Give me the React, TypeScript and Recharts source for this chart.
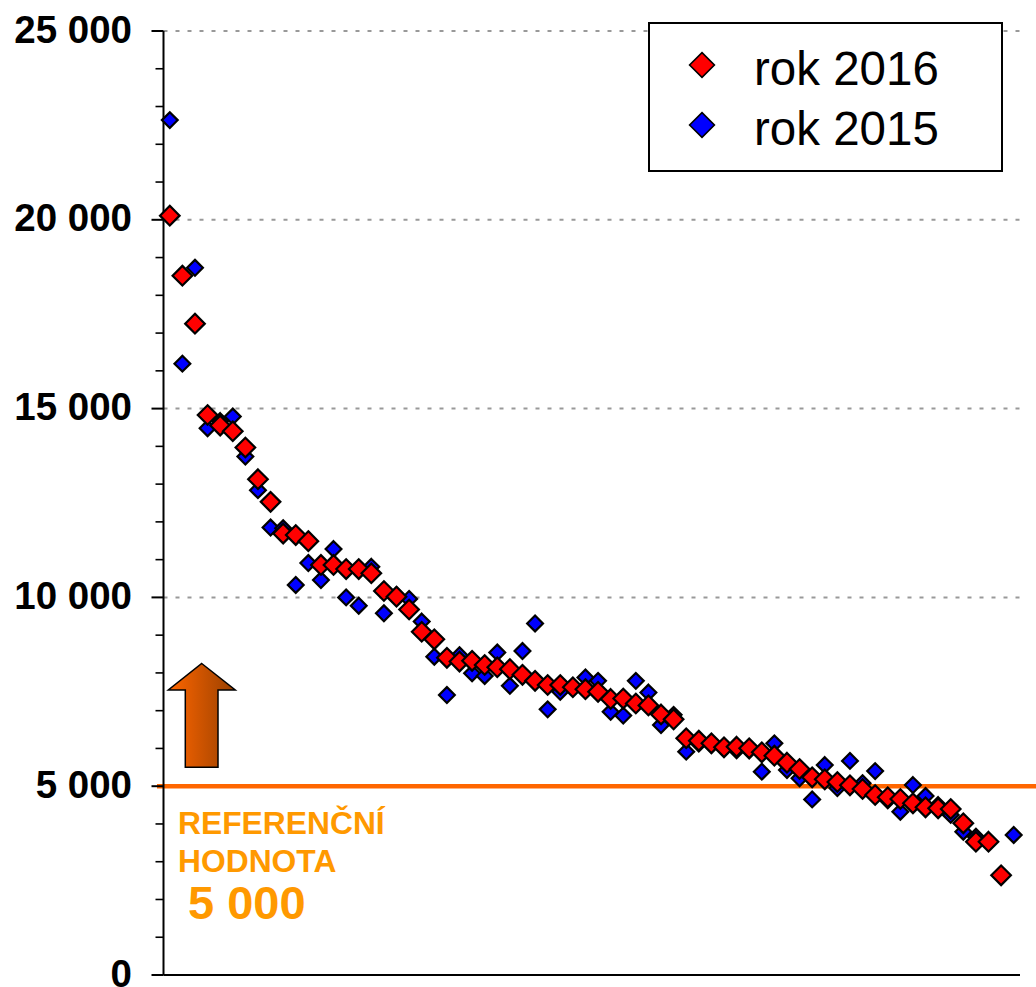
import React from 'react';
import { ScatterChart, Scatter, XAxis, YAxis, CartesianGrid, Legend, ReferenceLine } from 'recharts';

const values2016 = [
  20110, 18520, 17250, 14830, 14550, 14400, 13970, 13130, 12530, 11690,
  11650, 11490, 10860, 10860, 10750, 10750, 10640, 10170, 10020, 9680,
  9090, 8890, 8400, 8300, 8320, 8210, 8150, 8100, 7950, 7790,
  7680, 7680, 7620, 7570, 7500, 7310, 7320, 7190, 7140, 6900,
  6770, 6270, 6205, 6136, 6030, 6046, 6004, 5898, 5808, 5622,
  5456, 5236, 5183, 5111, 5024, 4926, 4767, 4706, 4661, 4547,
  4441, 4415, 4396, 4018, 3530, 3530, 2640, null,
];

const values2015 = [
  22640, 16190, 18730, 14480, 14670, 14790, 13730, 12840, 11850, 11830,
  10330, 10910, 10460, 11280, 10000, 9780, 10810, 9580, 10060, 9960,
  9360, 8430, 7415, 8470, 7990, 7920, 8540, 7660, 8580, 9310,
  7035, 7500, 7650, 7880, 7790, 6970, 6870, 7790, 7480, 6620,
  6890, 5915, 6130, 6100, 6000, 5950, 5950, 5385, 6135, 5430,
  5210, 4650, 5560, 4950, 5670, 5080, 5400, 4630, 4325, 5030,
  4740, 4500, 4240, 3795, 3660, null, null, 3708,
];

const yTicks = [
  0, 1000, 2000, 3000, 4000, 5000, 6000, 7000, 8000, 9000, 10000, 11000, 12000,
  13000, 14000, 15000, 16000, 17000, 18000, 19000, 20000, 21000, 22000, 23000, 24000, 25000,
];
const gridValues = [10000, 15000, 20000, 25000];
const referenceValue = 5000;

const FONT = '"Liberation Sans", Arial, sans-serif';

const toPoints = (values: (number | null)[]) =>
  values.flatMap((v, i) => (v === null ? [] : [{ x: i + 0.5, y: v }]));

const diamondPoints = (cx: number, cy: number, r: number) =>
  `${cx},${cy - r} ${cx + r},${cy} ${cx},${cy + r} ${cx - r},${cy}`;

const BlueDiamond = (props: any) => (
  <polygon points={diamondPoints(props.cx, props.cy, 7.9)} fill="#0000FF" stroke="#000" strokeWidth={2.2} />
);
const RedDiamond = (props: any) => (
  <polygon points={diamondPoints(props.cx, props.cy, 9.8)} fill="#FF0000" stroke="#000" strokeWidth={2.2} />
);

const formatTick = (v: number) =>
  v >= 1000 ? `${Math.floor(v / 1000)} ${String(v % 1000).padStart(3, '0')}` : String(v);

const YTick = (props: any) => {
  const { x, y, payload } = props;
  const major = payload.value % 5000 === 0;
  return (
    <g>
      <line x1={x - (major ? 12 : 8)} x2={x} y1={y} y2={y} stroke="#000" strokeWidth={major ? 2 : 1.6} />
      {major && (
        <text x={132} y={y + 11.5} textAnchor="end" fontFamily={FONT} fontWeight={700} fontSize={38.5} fill="#000">
          {formatTick(payload.value)}
        </text>
      )}
    </g>
  );
};

// the orange line runs past the plot on both sides
const ReferenceStroke = (props: any) => (
  <line x1={props.x1 - 6.5} x2={1036} y1={props.y1} y2={props.y2} stroke="#FF6600" strokeWidth={4.5} />
);

const LegendBox = (props: any) => {
  const items = [...(props.payload || [])].reverse();
  return (
    <svg width={356} height={152} style={{ display: 'block' }}>
      <rect x={2} y={2} width={353} height={148} fill="#999" />
      <rect x={1} y={1} width={353} height={148} fill="#fff" stroke="#000" strokeWidth={2} />
      {items.map((item: any, i: number) => (
        <g key={item.value}>
          <polygon
            points={diamondPoints(54, 43 + i * 60, 12.4)}
            fill={i === 0 ? '#FF0000' : '#0000FF'}
            stroke="#000"
            strokeWidth={1.6}
          />
          <text x={106} y={63 + i * 60} fontFamily={FONT} fontSize={47.5} fill="#000">
            {item.value}
          </text>
        </g>
      ))}
    </svg>
  );
};

export default function App() {
  return (
    <div style={{ position: 'absolute', left: 0, top: 0, width: 1036, height: 987, overflow: 'hidden', background: '#fff' }}>
      <ScatterChart width={1036} height={987} margin={{ top: 31, right: 16, bottom: 0, left: 0 }}>
        <defs>
          <linearGradient id="arrowFill" x1="0" y1="0" x2="1" y2="0">
            <stop offset="0" stopColor="#FF6600" />
            <stop offset="1" stopColor="#994000" />
          </linearGradient>
        </defs>
        <CartesianGrid
          vertical={false}
          horizontalValues={gridValues}
          stroke="#999"
          strokeWidth={2}
          strokeDasharray="4 8"
        />
        <XAxis
          type="number"
          dataKey="x"
          domain={[0, 68]}
          height={12}
          tick={false}
          tickLine={false}
          axisLine={{ stroke: '#000', strokeWidth: 2 }}
        />
        <YAxis
          type="number"
          dataKey="y"
          width={163.5}
          domain={[0, 25000]}
          ticks={yTicks}
          interval={0}
          tickSize={0}
          tickMargin={0}
          tickLine={false}
          axisLine={{ stroke: '#000', strokeWidth: 2 }}
          tick={YTick}
        />
        <Legend
          content={LegendBox}
          layout="horizontal"
          align="center"
          verticalAlign="middle"
          wrapperStyle={{ left: 648, top: 22, width: 356, height: 152, bottom: 'auto', right: 'auto' }}
        />
        <Scatter name="rok 2015" data={toPoints(values2015)} fill="#0000FF" shape={BlueDiamond} isAnimationActive={false} />
        <Scatter name="rok 2016" data={toPoints(values2016)} fill="#FF0000" shape={RedDiamond} isAnimationActive={false} />
        <ReferenceLine y={referenceValue} ifOverflow="visible" shape={ReferenceStroke} />
        <polygon
          points="201.7,663.5 235.3,690 218,690 218,767.3 185.3,767.3 185.3,690 168.3,690"
          fill="url(#arrowFill)"
          stroke="#000"
          strokeWidth={1.5}
        />
        <text x={178} y={834} fontFamily={FONT} fontWeight={700} fontSize={31.8} fill="#FF9900">REFERENČNÍ</text>
        <text x={178} y={872} fontFamily={FONT} fontWeight={700} fontSize={31.8} fill="#FF9900">HODNOTA</text>
        <text x={188} y={919} fontFamily={FONT} fontWeight={700} fontSize={47} fill="#FF9900">5 000</text>
      </ScatterChart>
    </div>
  );
}
